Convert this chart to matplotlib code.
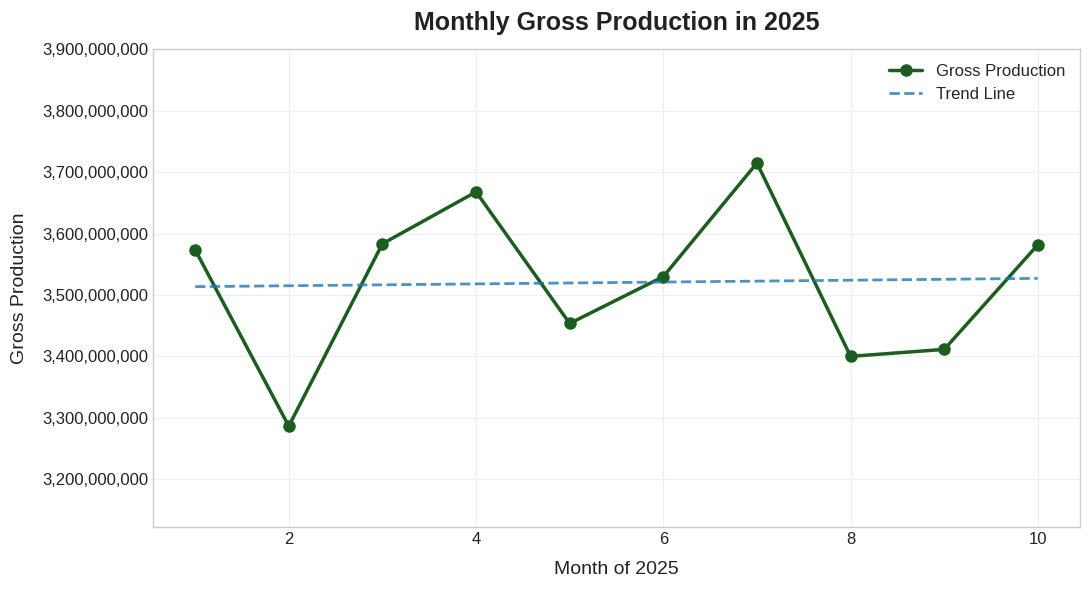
import matplotlib.pyplot as plt
import matplotlib.ticker as mticker
import numpy as np

plt.style.use("seaborn-v0_8-whitegrid")
plt.rcParams["font.family"] = ["Liberation Sans", "DejaVu Sans"]

months = [1, 2, 3, 4, 5, 6, 7, 8, 9, 10]
gross_production = [
    3573.7e6, 3286.4e6, 3583.4e6, 3667.9e6, 3453.6e6,
    3529.9e6, 3714.9e6, 3400.0e6, 3411.4e6, 3581.8e6,
]

fig = plt.figure(figsize=(10.89, 5.90), dpi=100)
ax = fig.add_axes([153 / 1089, 1 - 527 / 590, (1080 - 153) / 1089, (527 - 49) / 590])

ax.plot(months, gross_production, color="#1b5e20", linewidth=2.5, marker="o",
        markersize=8, label="Gross Production")

# linear trend fitted to the monthly values
coef = np.polyfit(months, gross_production, 1)
trend = np.polyval(coef, months)
ax.plot(months, trend, color="#1f77b4", linestyle="--", linewidth=2, alpha=0.8,
        label="Trend Line")

ax.set_ylim(min(gross_production) * 0.95, max(gross_production) * 1.05)
ax.yaxis.set_major_formatter(mticker.FuncFormatter(lambda v, p: f"{v:,.0f}"))

ax.set_title("Monthly Gross Production in 2025", fontsize=18, fontweight="bold",
             pad=14, color="#222222")
ax.set_xlabel("Month of 2025", fontsize=14, labelpad=10, color="#222222")
ax.set_ylabel("Gross Production", fontsize=14, labelpad=10, color="#222222")
ax.tick_params(labelsize=12, colors="#222222")

for s in ax.spines.values():
    s.set_visible(True)
    s.set_color("#cccccc")
ax.grid(True, color="#eeeeee")

ax.legend(loc="upper right", fontsize=12)

plt.savefig("out.png", dpi=100)
